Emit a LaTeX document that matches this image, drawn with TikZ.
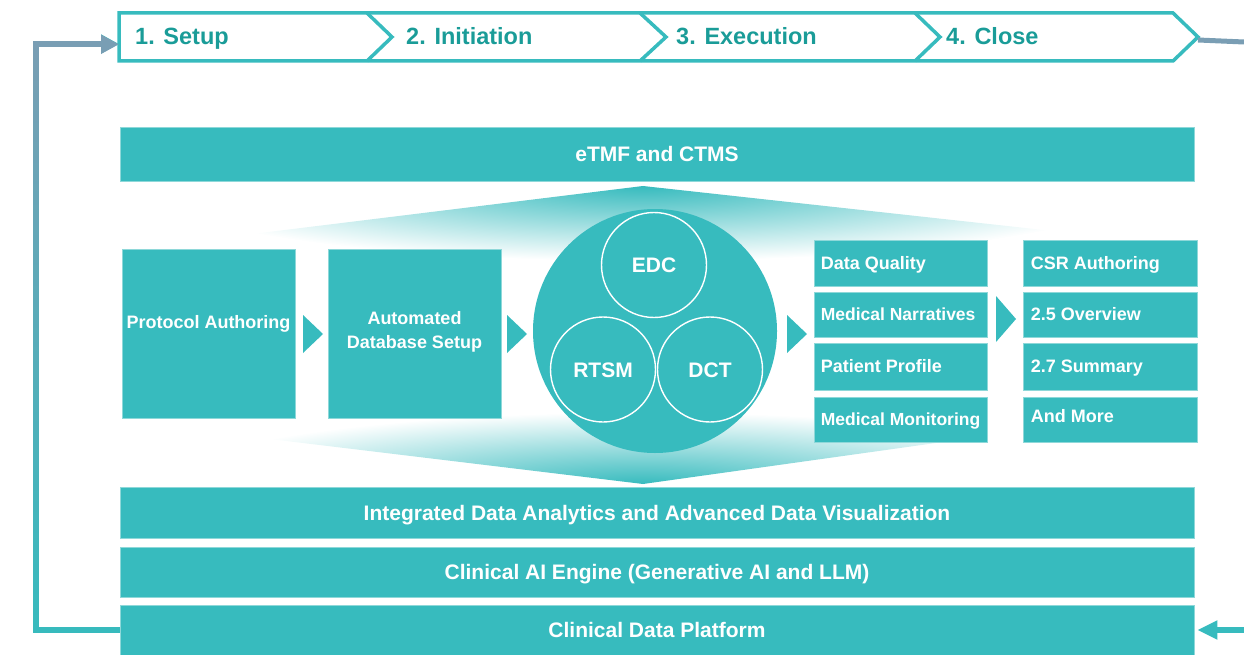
\documentclass[tikz,border=0pt]{standalone}
\usepackage{fontspec}
\setmainfont{Liberation Sans}
\usetikzlibrary{arrows.meta,fadings,calc}
\definecolor{tealA}{HTML}{37BBBE}
\definecolor{tealD}{HTML}{1A9C98}
\definecolor{tealE}{HTML}{8ED8D9}
\definecolor{grayB}{HTML}{7A9EB4}
\tikzfading[name=fadedown, top color=transparent!0, bottom color=transparent!100]
\begin{document}
\begin{tikzpicture}[x=1pt,y=-1pt,
  fnt/.style={font=\fontsize{18}{22}\selectfont\bfseries},
  bar/.style={fill=tealA, draw=tealE, line width=0.8pt, minimum width=1074pt, inner sep=0pt,
     text=white, font=\fontsize{21}{24}\selectfont\bfseries, text height=15pt, text depth=0pt},
  bigbox/.style={fill=tealA, draw=tealE, line width=0.8pt, minimum width=173pt, minimum height=169pt, inner sep=0pt},
  cbox/.style={fill=tealA, draw=tealE, line width=0.8pt, minimum width=173pt, inner sep=0pt},
  ctext/.style={anchor=west, inner sep=0pt, text=white, fnt, text height=12.9pt, text depth=0pt},
  btext/.style={inner sep=0pt, text=white, fnt, align=center},
  phase/.style={anchor=base west, inner sep=0pt, text=tealD, font=\fontsize{23.5}{26}\selectfont\bfseries},
  sc/.style={circle, draw=white, line width=1.4pt, minimum size=105pt, inner sep=0pt, text=white,
     font=\fontsize{21}{24}\selectfont\bfseries, text height=15pt, text depth=0pt},
  tri/.style={fill=tealA},
  loopline/.style={line width=6pt, line join=miter, -{Triangle[length=18pt,width=18pt]}}
]
\useasboundingbox (0,0) rectangle (1244,655);

% fans
\begin{scope}
  \clip (195,241) -- (643,186) -- (1244,252) -- (1244,330) -- (195,330) -- cycle;
  \shade[inner color=tealA, outer color=white] (643,186) ellipse [x radius=500, y radius=75];
\end{scope}
\begin{scope}
  \clip (195,430) -- (643,484) -- (1100,420) -- (1100,330) -- (195,330) -- cycle;
  \shade[inner color=tealA, outer color=white] (643,484) ellipse [x radius=480, y radius=72];
\end{scope}

% phase bar
\draw[tealA, line width=3.5pt, line join=miter] (119,13) -- (1173,13) -- (1198,37) -- (1173,61) -- (119,61) -- cycle;
\draw[tealA, line width=3.5pt, line join=miter] (367,13) -- (392,37) -- (367,61);
\draw[tealA, line width=3.5pt, line join=miter] (640,13) -- (666,37) -- (640,61);
\draw[tealA, line width=3.5pt, line join=miter] (915,13) -- (940,37) -- (915,61);
\node[phase] (p1) at (135,45) {1. Setup};
\node[phase] (p2) at (406,45) {2. Initiation};
\node[phase] (p3) at (676,45) {3. Execution};
\node[phase] (p4) at (946,45) {4. Close};
\coordinate (barL) at (119,44);
\coordinate (tipR) at (1198,40);
\coordinate (edgeR) at (1244,42);
\coordinate (edgeRb) at (1244,630);

% horizontal bars
\node[bar, minimum height=54pt] (etmf) at (657,154) {eTMF and CTMS};
\node[bar, minimum height=51pt] (ida) at (657,512.5) {Integrated Data Analytics and Advanced Data Visualization};
\node[bar, minimum height=50pt] (ai) at (657,572) {Clinical AI Engine (Generative AI and LLM)};
\node[bar, minimum height=50pt] (plat) at (657,630) {Clinical Data Platform};

% big boxes
\node[bigbox] (proto) at (208.5,333.5) {};
\node[btext] at ([yshift=10pt]proto.center) {Protocol Authoring};
\node[bigbox] (dbs) at (414.5,333.5) {};
\node[btext, font=\fontsize{18}{24}\selectfont\bfseries] at ([yshift=2pt]dbs.center) {Automated\\Database Setup};

% hub circle
\node[circle, fill=tealA, minimum size=244pt, inner sep=0pt] (hub) at (655,331) {};
\node[sc] (edc) at (654,265) {EDC};
\node[sc] (rtsm) at (603,369.5) {RTSM};
\node[sc] (dct) at (710,369.5) {DCT};

% column 1
\node[cbox, minimum height=46pt] (dq) at (900.5,263) {};
\node[ctext] at ([xshift=7pt]dq.west) {Data Quality};
\node[cbox, minimum height=45pt] (mn) at (900.5,314.5) {};
\node[ctext, font=\fontsize{17.5}{21}\selectfont\bfseries] at ([xshift=7pt]mn.west) {Medical Narratives};
\node[cbox, minimum height=47pt] (pp) at (900.5,366.5) {};
\node[ctext] at ([xshift=7pt]pp.west) {Patient Profile};
\node[cbox, minimum height=45pt] (mm) at (900.5,419.5) {};
\node[ctext, font=\fontsize{17.5}{21}\selectfont\bfseries] at ([xshift=7pt]mm.west) {Medical Monitoring};

% column 2
\node[cbox, minimum height=46pt, minimum width=174pt] (csr) at (1110,263) {};
\node[ctext] at ([xshift=8pt]csr.west) {CSR Authoring};
\node[cbox, minimum height=45pt, minimum width=174pt] (ov) at (1110,314.5) {};
\node[ctext] at ([xshift=8pt]ov.west) {2.5 Overview};
\node[cbox, minimum height=47pt, minimum width=174pt] (sm) at (1110,366.5) {};
\node[ctext] at ([xshift=8pt]sm.west) {2.7 Summary};
\node[cbox, minimum height=45pt, minimum width=174pt] (more) at (1110,419.5) {};
\node[ctext] at ([xshift=8pt,yshift=3pt]more.west) {And More};

% chevron arrows
\fill[tri] (303,315) -- (323,334) -- (303,353) -- cycle;
\fill[tri] (507,315) -- (527,334) -- (507,353) -- cycle;
\fill[tri] (787,315) -- (807,334) -- (787,353) -- cycle;
\fill[tri] (996,296) -- (1016,319) -- (996,342) -- cycle;

% loop connectors
\draw[tealA, loopline] (plat.west) -- ++(-84,0) |- (barL);
\draw[grayB, loopline, path fading=fadedown] (plat.west) -- ++(-84,0) |- (barL);
\draw[grayB, line width=5pt] (tipR) -- (edgeR);
\draw[tealA, line width=6pt, -{Triangle[length=20pt,width=18pt]}] (edgeRb) -- ([xshift=3pt]plat.east);
\end{tikzpicture}
\end{document}
